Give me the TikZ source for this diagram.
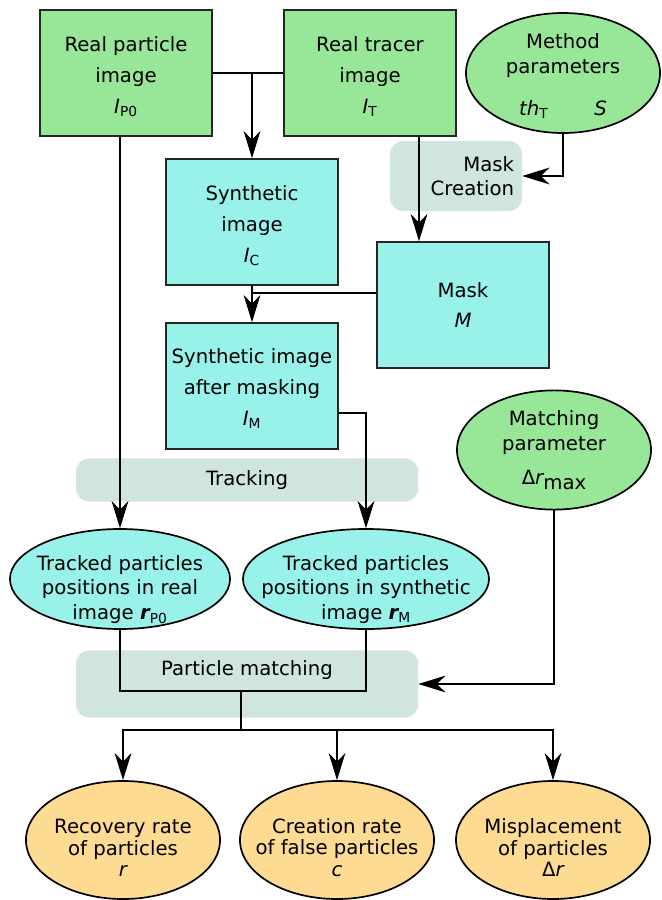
\documentclass[tikz,border=0pt]{standalone}
\usepackage{fontspec}
\setmainfont{DejaVu Sans}
\usetikzlibrary{shapes.geometric, arrows.meta}
\definecolor{imggreen}{HTML}{98E698}
\definecolor{syncyan}{HTML}{98F2EA}
\definecolor{resorange}{HTML}{FEDB92}
\definecolor{procgray}{HTML}{D0E4E0}
\tikzstyle{imgbox} = [rectangle, minimum width=4.3cm, minimum height=3.15cm, align=center, draw=black!85, line width=1.2pt, font=\fontsize{14}{22}\selectfont]
\tikzstyle{inbox} = [imgbox, fill=imggreen]
\tikzstyle{synbox} = [imgbox, fill=syncyan]
\tikzstyle{oval} = [ellipse, inner xsep=-0.5cm, inner ysep=-0.3cm, align=center, draw=black, line width=1.2pt, font=\fontsize{14}{17.7}\selectfont]
\tikzstyle{param} = [oval, fill=imggreen, minimum width=4.85cm, minimum height=3cm]
\tikzstyle{tracked} = [oval, fill=syncyan, minimum height=2.5cm]
\tikzstyle{result} = [oval, fill=resorange, minimum width=4.85cm, minimum height=2.95cm, font=\fontsize{14}{15.5}\selectfont]
\tikzstyle{proc} = [rectangle, rounded corners=0.33cm, fill=procgray, align=center, font=\fontsize{14}{17}\selectfont]
\tikzstyle{wire} = [line width=0.8pt]
\tikzstyle{arrow} = [line width=0.8pt, -{Stealth[length=0.68cm, width=0.42cm, inset=0.22cm]}]
\begin{document}
\begin{tikzpicture}[x=0.025cm, y=-0.025cm]
\useasboundingbox (0,0) rectangle (662,900);

\node[proc, text width=2.9cm, inner xsep=0.2cm, minimum height=1.75cm, align=right] (mcreate) at (456,176) {Mask\\Creation};
\node[proc, minimum width=8.55cm, minimum height=1.075cm] (track) at (247,480) {Tracking};
\node[proc, minimum width=8.55cm, minimum height=1.675cm, label={[anchor=north, inner sep=0.1cm, yshift=-0.15cm, font=\fontsize{14}{17}\selectfont]north:Particle matching}] (pmatch) at (247,684) {};

\node[inbox] (realP) at (126,73) {\rule{0pt}{0.56cm}Real particle\\image\\{\itshape I}\textsubscript{P0}};
\node[inbox] (realT) at (370,73) {\rule{0pt}{0.56cm}Real tracer\\image\\{\itshape I}\textsubscript{T}};
\node[param] (method) at (563,73) {\rule{0pt}{0.52cm}Method\\parameters\\[0.42cm]{\itshape th}\textsubscript{T}\hspace{1.15cm}{\itshape S}};
\node[synbox] (synth) at (252,222) {\rule{0pt}{0.56cm}Synthetic\\image\\{\itshape I}\textsubscript{C}};
\node[synbox] (mask) at (463,305) {Mask\\{\itshape M}};
\node[synbox] (masked) at (252,386) {\rule{0pt}{0.52cm}Synthetic image\\after masking\\{\itshape I}\textsubscript{M}};
\node[param, minimum height=2.98cm] (matchpar) at (554,450) {Matching\\parameter\\[0.22cm]Δ{\itshape r}\raisebox{-0.12cm}{max}};
\node[tracked, minimum width=5.5cm] (trkP) at (120,579) {\rule{0pt}{0.9cm}Tracked particles\\positions in real\\image {\bfseries\itshape r}\textsubscript{P0}};
\node[tracked, minimum width=6.15cm] (trkM) at (366,579) {\rule{0pt}{0.9cm}Tracked particles\\positions in synthetic\\image {\bfseries\itshape r}\textsubscript{M}};
\node[result] (rec) at (123,840) {\rule{0pt}{0.75cm}Recovery rate\\of particles\\{\itshape r}};
\node[result] (cre) at (337,840) {\rule{0pt}{0.75cm}Creation rate\\of false particles\\{\itshape c}};
\node[result] (mis) at (553,840) {\rule{0pt}{0.75cm}Misplacement\\of particles\\Δ{\itshape r}};

\coordinate (join) at (241,691);
\coordinate (fork) at (241,730);

\draw[wire] (realP) -- (realT);
\draw[arrow] (realP -| synth) -- (synth);
\draw[arrow] ([xshift=1.225cm]realT.south) -- ([xshift=1.225cm]realT.south |- mask.north);
\draw[arrow] (method.south) |- (mcreate.east);
\draw[arrow] (trkP.north |- realP.south) -- (trkP.north);
\draw[arrow] (synth) -- (masked);
\draw[wire] ([yshift=0.3cm]mask.west) -- ([yshift=0.3cm]mask.west -| synth.south);
\draw[arrow] ([yshift=-0.675cm]masked.east) -| (trkM.north);
\draw[wire] (trkP.south) |- (join) -| (trkM.south);
\draw[wire] (join) -- (fork);
\draw[arrow] (fork) -| (rec.north);
\draw[arrow] (fork) -| (mis.north);
\draw[arrow] (fork -| cre.north) -- (cre.north);
\draw[arrow] (matchpar.south) |- (pmatch.east);
\end{tikzpicture}
\end{document}
